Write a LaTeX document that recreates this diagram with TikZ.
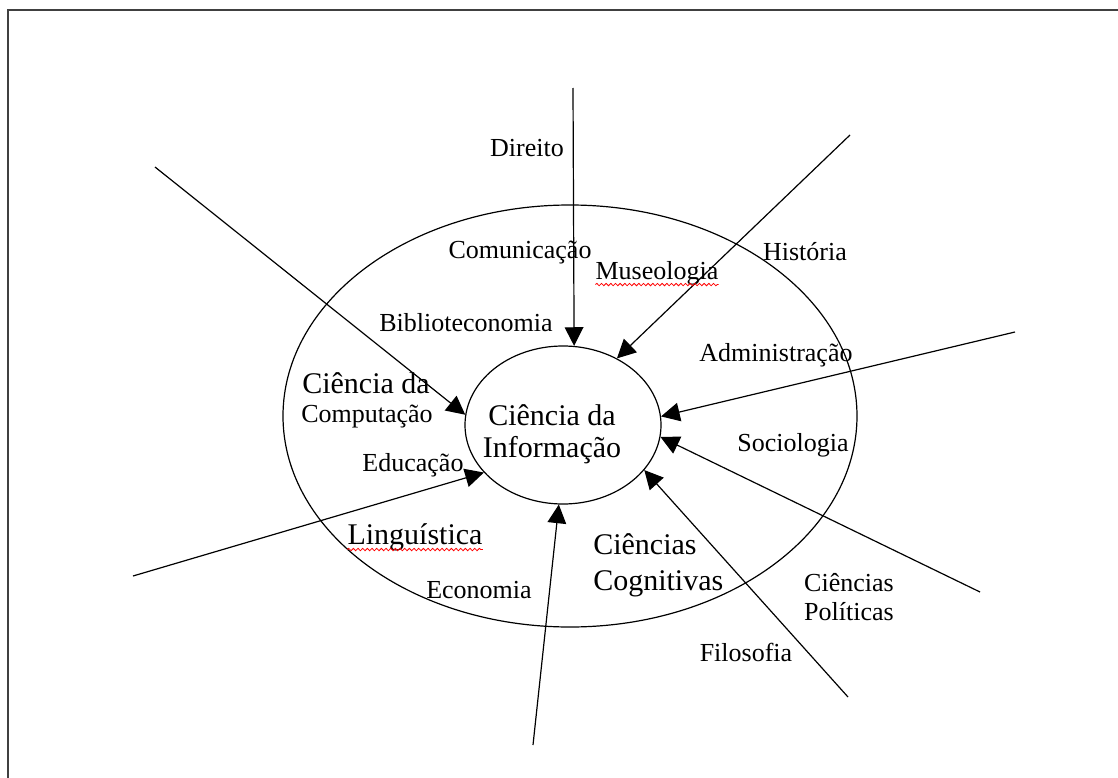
\documentclass[tikz,border=0pt]{standalone}
\usepackage{fontspec}
\setmainfont{Liberation Serif}
\usetikzlibrary{arrows.meta,shapes.geometric,decorations.pathmorphing}
\begin{document}
\begin{tikzpicture}[x=0.75pt,y=-0.75pt,
  lbl/.style={inner sep=0pt, font=\fontsize{19.5pt}{21.75pt}\selectfont},
  big/.style={inner sep=0pt, font=\fontsize{22.5pt}{24pt}\selectfont},
  arr/.style={line width=0.9pt, -{Triangle[length=14pt,width=14pt]}},
  ring/.style={draw, ellipse, line width=0.9pt, inner sep=0pt},
  squig/.style={red, line width=0.6pt, decorate, decoration={snake, amplitude=0.9pt, segment length=3.5pt}},
  frame/.style={line width=1.8pt, black!75}]
\useasboundingbox (0,0) rectangle (1118,778);
\draw[frame] (8,778) -- (8,10) -- (1118,10);

% ellipses
\node[ring, minimum width=430.5pt, minimum height=316.5pt] (outer) at (570,416) {};
\node[ring, minimum width=147pt, minimum height=118.5pt] (inner) at (563,425) {};

% arrow start points
\coordinate (sDir) at (573,88);
\coordinate (sHis) at (850,135);
\coordinate (sAdm) at (1015,332);
\coordinate (sPol) at (980,592);
\coordinate (sFil) at (848,697);
\coordinate (sEco) at (533,745);
\coordinate (sEdu) at (133,576);
\coordinate (sCom) at (155,167);

\draw[arr] (sDir) -- (inner.82.8);
\draw[arr] (sHis) -- (inner.51);
\draw[arr] (sAdm) -- (inner.5.9);
\draw[arr] (sPol) -- (inner.-7.8);
\draw[arr] (sFil) -- (inner.-29.2);
\draw[arr] (sEco) -- (inner.267.1);
\draw[arr] (sEdu) -- (inner.211);
\draw[arr] (sCom) -- (inner.174.2);

% labels
\node[lbl] (dir) at (527,148) {Direito};
\node[lbl] (com) at (520,253) {Comunicação};
\node[lbl] (mus) at (657,273) {Museologia};
\node[lbl] (his) at (805,252) {História};
\node[lbl] (bib) at (466,323) {Biblioteconomia};
\node[lbl] (adm) at (776,355) {Administração};
\node[big] (cc1) at (366,383) {Ciência da};
\node[lbl] (cc2) at (367,417) {Computação};
\node[big, align=center] (ci) at (552,434) {Ciência da\\Informação};
\node[lbl] (edu) at (413,465) {Educação};
\node[lbl] (soc) at (793,445) {Sociologia};
\node[big] (lin) at (415,537) {Linguística};
\node[lbl] (eco) at (479,590) {Economia};
\node[big, align=left, anchor=west, font=\fontsize{22.5pt}{27pt}\selectfont] (cog) at (593,565) {Ciências\\Cognitivas};
\node[lbl, align=center] (pol) at (849,597) {Ciências\\Políticas};
\node[lbl] (fil) at (746,652) {Filosofia};

% spell-check underlines
\draw[squig] ([yshift=-4pt]mus.base west) -- ([yshift=-4pt]mus.base east);
\draw[squig] ([yshift=-4pt]lin.base west) -- ([yshift=-4pt]lin.base east);
\end{tikzpicture}
\end{document}
